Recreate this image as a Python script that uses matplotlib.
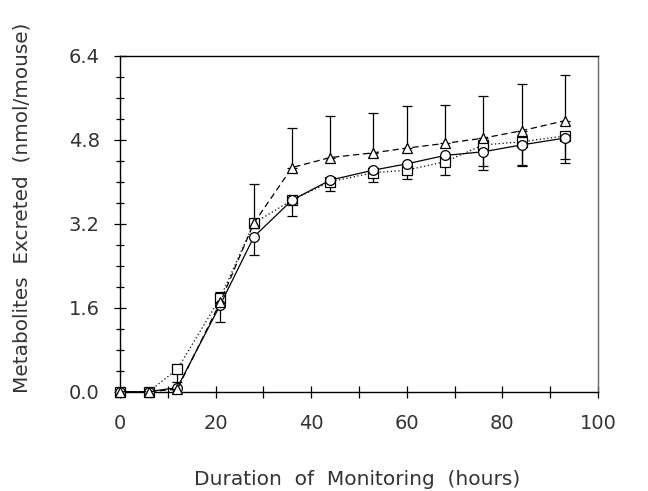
import matplotlib
matplotlib.use("Agg")
import matplotlib.pyplot as plt
from matplotlib.ticker import MultipleLocator
import numpy as np

# Sampling times (hours)
hours = [0, 6, 12, 21, 28, 36, 44, 53, 60, 68, 76, 84, 93]

# Cumulative metabolites excreted (nmol/mouse) and SEM for each group
tri_mean = [0.0, 0.0, 0.05, 1.71, 3.21, 4.27, 4.46, 4.55, 4.64, 4.73, 4.83, 4.97, 5.16]
tri_sem = [0.0, 0.0, 0.0, 0.18, 0.74, 0.76, 0.80, 0.76, 0.81, 0.73, 0.81, 0.89, 0.88]

circ_mean = [0.0, 0.0, 0.08, 1.66, 2.95, 3.65, 4.03, 4.22, 4.34, 4.50, 4.57, 4.70, 4.83]
circ_sem = [0.0, 0.0, 0.0, 0.33, 0.35, 0.30, 0.0, 0.0, 0.0, 0.0, 0.35, 0.38, 0.40]

sq_mean = [0.0, 0.0, 0.43, 1.79, 3.21, 3.65, 4.00, 4.17, 4.22, 4.38, 4.70, 4.76, 4.87]
sq_sem = [0.0, 0.0, 0.24, 0.0, 0.0, 0.0, 0.17, 0.18, 0.17, 0.25, 0.40, 0.47, 0.52]

x_ticklabels = ["0", "20", "40", "60", "80", "100"]
y_ticklabels = ["0.0", "1.6", "3.2", "4.8", "6.4"]

plt.rcParams["font.family"] = ["DejaVu Sans"]

fig = plt.figure(figsize=(6.48, 4.91), dpi=100)
ax = fig.add_axes([0.1852, 0.2022, 0.7376, 0.6844])

x = np.array(hours, dtype=float)
lw = 0.9
ms = 7

def group(mean, sem, ls, marker, upper):
    mean = np.array(mean)
    sem = np.array(sem)
    zero = np.zeros_like(sem)
    lower, higher = (zero, sem) if upper else (sem, zero)
    mask = sem > 0
    ax.errorbar(x[mask], mean[mask], yerr=[lower[mask], higher[mask]],
                fmt="none", ecolor="black", elinewidth=lw, capsize=3.5,
                capthick=lw, zorder=2)
    ax.plot(x, mean, linestyle=ls, color="black", linewidth=lw,
            marker=marker, markersize=ms, markerfacecolor="white",
            markeredgecolor="black", markeredgewidth=lw, zorder=3,
            clip_on=False)

group(sq_mean, sq_sem, (0, (1, 2)), "s", upper=False)
group(circ_mean, circ_sem, "-", "o", upper=False)
group(tri_mean, tri_sem, (0, (5, 3)), "^", upper=True)

ax.set_xlim(0, 100)
ax.set_ylim(0, 6.4)
ax.xaxis.set_minor_locator(MultipleLocator(10))
ax.yaxis.set_minor_locator(MultipleLocator(0.4))
ax.set_xticks([0, 20, 40, 60, 80, 100])
ax.set_xticklabels(x_ticklabels)
ax.set_yticks([0, 1.6, 3.2, 4.8, 6.4])
ax.set_yticklabels(y_ticklabels)

ax.tick_params(axis="both", which="both", direction="inout", top=False,
               right=False, width=0.9, labelsize=14, colors="black")
ax.tick_params(axis="x", which="major", length=8, pad=12)
ax.tick_params(axis="x", which="minor", length=8)
ax.tick_params(axis="y", which="major", length=9, pad=10)
ax.tick_params(axis="y", which="minor", length=6)
for t in ax.get_xticklabels() + ax.get_yticklabels():
    t.set_color("#333333")

for s in ax.spines.values():
    s.set_linewidth(1.0)
ax.spines["right"].set_color("#666666")

ax.set_xlabel("Duration  of  Monitoring  (hours)", fontsize=14.5,
              color="#333333")
ax.set_ylabel("Metabolites  Excreted  (nmol/mouse)", fontsize=14.4,
              color="#333333")
ax.xaxis.set_label_coords(0.496, -0.232)
ax.yaxis.set_label_coords(-0.185, 0.547)

fig.savefig("out.png", dpi=100)
